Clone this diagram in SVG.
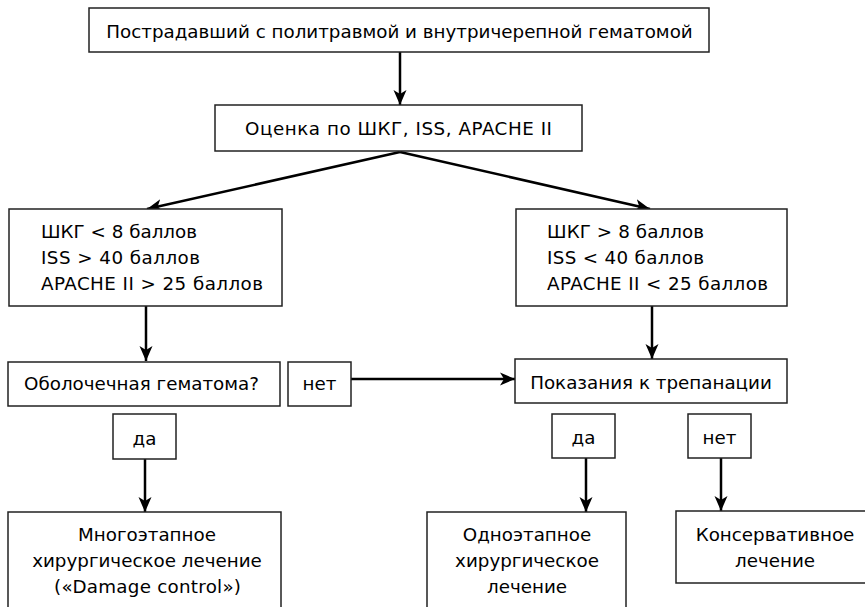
<svg xmlns="http://www.w3.org/2000/svg" width="865" height="607" viewBox="0 0 865 607">
<defs>
<style>
.box{fill:#fff;stroke:#222;stroke-width:1.5}
.t{font-family:"DejaVu Sans","Verdana",sans-serif;font-size:18.3px;fill:#000}
.c{text-anchor:middle}
.e{fill:none;stroke:#000;stroke-width:2.5}
</style>
<marker id="ah" markerUnits="userSpaceOnUse" markerWidth="16" markerHeight="14" refX="15" refY="6.5" orient="auto" viewBox="0 0 16 13">
<path d="M0,0 L15,6.5 L0,13 L4,6.5 z" fill="#000"/>
</marker>
</defs>
<rect width="865" height="607" fill="#fff"/>
<g id="connectors">
<line class="e" x1="400" y1="52" x2="400" y2="105" marker-end="url(#ah)"/>
<line class="e" x1="400" y1="152" x2="147" y2="209" marker-end="url(#ah)"/>
<line class="e" x1="400" y1="152" x2="650" y2="209" marker-end="url(#ah)"/>
<line class="e" x1="146" y1="306" x2="146" y2="361" marker-end="url(#ah)"/>
<line class="e" x1="652" y1="306" x2="652" y2="359" marker-end="url(#ah)"/>
<line class="e" x1="351" y1="379" x2="515" y2="379" marker-end="url(#ah)"/>
<line class="e" x1="145" y1="459" x2="145" y2="512" marker-end="url(#ah)"/>
<line class="e" x1="586" y1="458" x2="586" y2="512" marker-end="url(#ah)"/>
<line class="e" x1="721" y1="458" x2="721" y2="511" marker-end="url(#ah)"/>
</g>
<g id="n1">
<rect class="box" x="89" y="8" width="620" height="44"/>
<text class="t c" x="399.5" y="38">Пострадавший с политравмой и внутричерепной гематомой</text>
</g>
<g id="n2">
<rect class="box" x="215" y="105" width="367" height="46"/>
<text class="t c" x="398.5" y="135" textLength="307" lengthAdjust="spacing">Оценка по ШКГ, ISS, APACHE II</text>
</g>
<g id="n3">
<rect class="box" x="9" y="209" width="273" height="97"/>
<text class="t" x="41" y="238" textLength="156" lengthAdjust="spacing">ШКГ &lt; 8 баллов</text>
<text class="t" x="41" y="264" textLength="159" lengthAdjust="spacing">ISS &gt; 40 баллов</text>
<text class="t" x="41" y="290" textLength="222" lengthAdjust="spacing">APACHE II &gt; 25 баллов</text>
</g>
<g id="n4">
<rect class="box" x="516" y="209" width="271" height="97"/>
<text class="t" x="547" y="238" textLength="157" lengthAdjust="spacing">ШКГ &gt; 8 баллов</text>
<text class="t" x="547" y="264" textLength="157" lengthAdjust="spacing">ISS &lt; 40 баллов</text>
<text class="t" x="547" y="290" textLength="221" lengthAdjust="spacing">APACHE II &lt; 25 баллов</text>
</g>
<g id="n5">
<rect class="box" x="8" y="362" width="272" height="44"/>
<text class="t c" x="141.5" y="390">Оболочечная гематома?</text>
</g>
<g id="n6">
<rect class="box" x="288" y="362" width="63" height="44"/>
<text class="t c" x="319.5" y="390">нет</text>
</g>
<g id="n7">
<rect class="box" x="515" y="359" width="272" height="44"/>
<text class="t c" x="651" y="389">Показания к трепанации</text>
</g>
<g id="n8">
<rect class="box" x="113" y="414" width="63" height="45"/>
<text class="t c" x="144.5" y="445">да</text>
</g>
<g id="n9">
<rect class="box" x="552" y="414" width="63" height="44"/>
<text class="t c" x="583.5" y="444">да</text>
</g>
<g id="n10">
<rect class="box" x="688" y="414" width="63" height="44"/>
<text class="t c" x="719.5" y="444">нет</text>
</g>
<g id="n11">
<rect class="box" x="8" y="512" width="273" height="110"/>
<text class="t c" x="147" y="541">Многоэтапное</text>
<text class="t c" x="147" y="567">хирургическое лечение</text>
<text class="t c" x="147.5" y="593" textLength="187" lengthAdjust="spacing">(«Damage control»)</text>
</g>
<g id="n12">
<rect class="box" x="427" y="512" width="199" height="110"/>
<text class="t c" x="527" y="541">Одноэтапное</text>
<text class="t c" x="527" y="567">хирургическое</text>
<text class="t c" x="527" y="593">лечение</text>
</g>
<g id="n13">
<rect class="box" x="676" y="511" width="200" height="72"/>
<text class="t c" x="775" y="541">Консервативное</text>
<text class="t c" x="775" y="567">лечение</text>
</g>
</svg>
